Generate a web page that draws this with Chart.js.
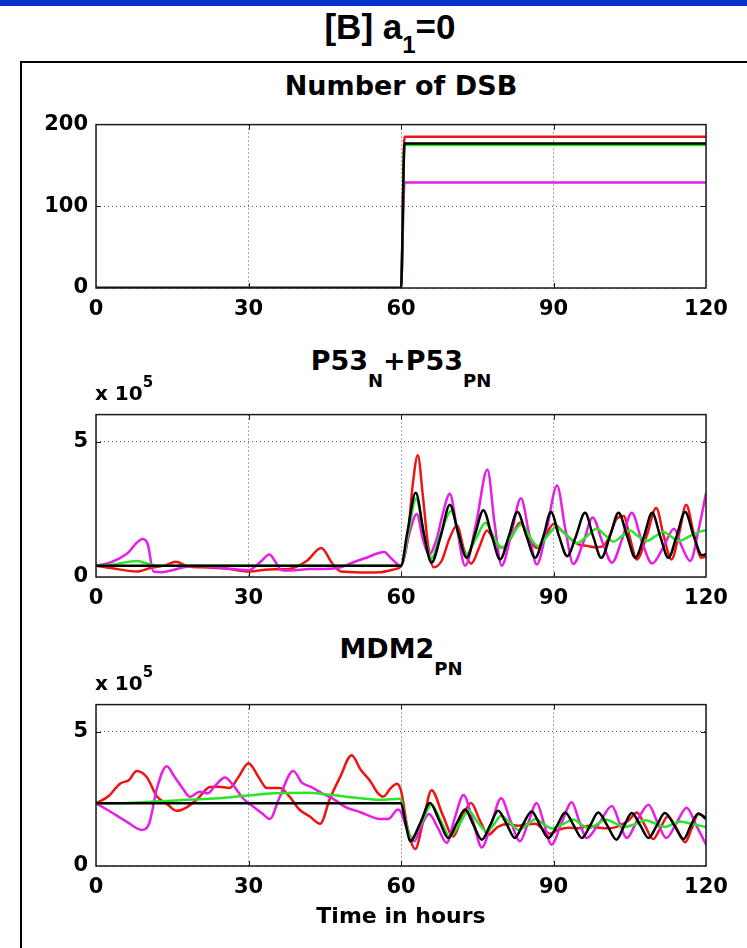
<!DOCTYPE html>
<html>
<head>
<meta charset="utf-8">
<script src="https://cdn.jsdelivr.net/npm/chart.js@4.4.1/dist/chart.umd.min.js"></script>
<style>
  html, body { margin: 0; padding: 0; background: #fff; }
  #page { position: relative; width: 747px; height: 948px; overflow: hidden; background: #fff;
          font-family: "DejaVu Sans", sans-serif; font-weight: bold; color: #000; }
  #topbar { position: absolute; left: 0; top: 0; width: 747px; height: 6px; background: #0033cc; }
  #frame { position: absolute; left: 20px; top: 61px; width: 800px; height: 1000px;
           border-left: 2px solid #000; border-top: 2px solid #000; }
  #figTitle { position: absolute; left: 0; width: 780px; top: 9px; text-align: center;
              font-family: "Liberation Sans", Arial, sans-serif; font-size: 35px; line-height: 35px; white-space: nowrap; }
  .title { position: absolute; left: 96px; width: 610px; text-align: center; font-size: 27px;
           line-height: 27px; white-space: nowrap; z-index: 2; }
  .sub { position: relative; top: 17px; font-size: 18px; }
  .mult { position: absolute; left: 95px; font-size: 20px; line-height: 20px; white-space: nowrap; z-index: 2; }
  .sup { position: relative; top: -13px; font-size: 15px; }
  canvas { position: absolute; left: 0; z-index: 1; }
</style>
</head>
<body>
<div id="page">
  <div id="topbar"></div>
  <div id="frame"></div>
  <div id="figTitle">[B] a<span class="sub" style="top:14px; font-size:24px;">1</span>=0</div>

  <div class="title" style="top:72px;">Number of DSB</div>
  <canvas id="dsbChart" width="747" height="228" style="top:104px;"></canvas>

  <div class="title" style="top:347px;">P53<span class="sub">N</span>+P53<span class="sub">PN</span></div>
  <div class="mult" style="top:383px;">x 10<span class="sup">5</span></div>
  <canvas id="p53Chart" width="747" height="227" style="top:394px;"></canvas>

  <div class="title" style="top:635px;">MDM2<span class="sub">PN</span></div>
  <div class="mult" style="top:673px;">x 10<span class="sup">5</span></div>
  <canvas id="mdmChart" width="747" height="252" style="top:684px;"></canvas>
</div>

<script>
// x axis (hours) shared by the three panels
const hourTicks = [0, 30, 60, 90, 120];
const dsbTicks = [0, 100, 200];
const e5Ticks = [0, 5];

// Number of DSB
const dsbHours = [0, 60, 60.7, 120];
const dsbRed = [0, 0, 185, 185];
const dsbMagenta = [0, 0, 129, 129];
const dsbGreen = [0, 0, 175, 175];
const dsbBlack = [0, 0, 177, 177];

// P53N + P53PN  (x 10^5)
const p53RedHours = [0, 4, 8, 11, 13.5, 15.7, 18, 22, 26, 30, 34, 38, 41.5, 44.3, 46.5, 48.2, 52, 56, 59, 60,
  61.3, 62.3, 63.3, 64.3, 65.3, 66.4, 68, 69.5, 71, 72.4, 73.8, 75.4, 76.9, 78.5, 80.1, 81.8, 83.4, 85, 86.7, 88.4,
  90, 91.7, 93.3, 95, 96.6, 98.3, 99.9, 101.2, 102.4, 103.8, 105.1, 106.4, 108.3, 110.2, 111.7, 113.2, 114.7, 116.1, 117.6, 119.1, 120];
const p53Red = [0.42, 0.3, 0.2, 0.35, 0.42, 0.56, 0.4, 0.35, 0.3, 0.2, 0.28, 0.3, 0.6, 1.07, 0.5, 0.2, 0.17, 0.18, 0.3, 0.4,
  1.4, 3.4, 4.5, 3.0, 1.2, 0.36, 0.6, 1.4, 1.9, 1.0, 0.49, 1.1, 1.72, 1.3, 1.07, 1.5, 2.0, 1.5, 1.07, 1.5,
  1.96, 1.7, 1.42, 1.2, 1.15, 1.1, 1.15, 1.6, 2.14, 2.25, 1.4, 0.65, 1.5, 2.55, 1.5, 0.65, 1.6, 2.67, 1.6, 0.71, 0.75];

const p53MagentaHours = [0, 3, 6, 9.2, 10.2, 11.3, 13, 15, 17, 20, 24, 28, 30, 32.3, 34.1, 35.5, 36.5, 38.4, 42, 45,
  48, 50, 53, 56.7, 58, 60, 61.5, 63.1, 64.3, 65.5, 67, 68.3, 69.6, 71, 72.6, 74.8, 77, 78.4, 79.8, 81.7,
  83.6, 85.2, 86.7, 88.7, 90.7, 92.3, 93.9, 95.9, 97.7, 99.6, 101.5, 103.5, 105.4, 107.4, 109.4, 111.6, 113.7, 115.3, 116.9, 118.6, 119.8, 120];
const p53Magenta = [0.42, 0.55, 0.85, 1.4, 1.2, 0.2, 0.18, 0.25, 0.35, 0.42, 0.35, 0.28, 0.25, 0.55, 0.83, 0.5, 0.25, 0.24, 0.3, 0.3,
  0.35, 0.5, 0.7, 0.92, 0.7, 0.42, 1.5, 2.33, 1.4, 0.83, 1.4, 2.4, 3.08, 1.8, 0.42, 2.0, 3.97, 2.0, 0.42, 1.6,
  2.91, 1.6, 0.46, 1.8, 3.38, 1.8, 0.48, 1.3, 2.2, 1.3, 0.53, 1.4, 2.37, 1.3, 0.5, 1.1, 1.78, 1.1, 0.59, 1.8, 2.9, 3.1];

const p53GreenHours = [0, 3, 6, 8, 10, 12, 60, 61.3, 63, 64.5, 66, 67.8, 69.9, 71.3, 72.8, 74.7, 76.6, 78.2, 79.8, 81.7,
  83.7, 85.3, 87, 88.7, 90.5, 92.5, 94.6, 96.5, 98.5, 100.1, 101.8, 103.4, 105, 106.7, 108.4, 110, 111.6, 113.1, 114.6, 117.2, 119.8, 120];
const p53Green = [0.42, 0.45, 0.55, 0.59, 0.5, 0.42, 0.42, 1.5, 2.9, 1.6, 0.7, 1.6, 2.44, 1.6, 0.83, 1.4, 2.0, 1.5, 1.07, 1.5,
  1.96, 1.5, 1.13, 1.5, 1.84, 1.55, 1.25, 1.5, 1.78, 1.55, 1.31, 1.5, 1.72, 1.5, 1.33, 1.5, 1.66, 1.5, 1.33, 1.55, 1.72, 1.72];

const p53BlackHours = [0, 60, 61.2, 62.9, 64.5, 66, 67.8, 69.6, 71.3, 72.9, 74.6, 76.2, 77.9, 79.5, 81.2, 82.9, 84.7, 86.4, 88, 89.5,
  91.1, 92.7, 94.4, 96.2, 97.8, 99.4, 101.1, 102.8, 104.5, 106.1, 107.8, 109.4, 111, 112.6, 114.2, 115.9, 117.6, 119.2, 120];
const p53Black = [0.42, 0.42, 1.6, 3.11, 1.6, 0.53, 1.5, 2.67, 1.6, 0.71, 1.6, 2.47, 1.5, 0.65, 1.5, 2.4, 1.5, 0.71, 1.5, 2.4,
  1.5, 0.77, 1.5, 2.37, 1.5, 0.71, 1.5, 2.37, 1.5, 0.71, 1.5, 2.37, 1.5, 0.71, 1.5, 2.4, 1.5, 0.8, 0.85];

// MDM2PN  (x 10^5)
const mdmRedHours = [0, 2.5, 4.7, 6.5, 8, 10, 12, 14, 15.9, 18, 20, 22.4, 24, 26.3, 28, 30, 32, 33.6, 36.2, 38,
  40, 42, 44.1, 46, 48, 50.3, 52, 53.9, 55.5, 56.5, 58, 59.2, 60, 61.3, 62.8, 64.4, 66, 68.2, 70.3, 72,
  73.8, 75.5, 77.2, 79, 81, 83, 84.8, 86.4, 88, 89.2, 91, 93, 95, 97, 99, 101, 103, 104.8, 106.4, 108,
  109.6, 111, 112.5, 114.2, 115.9, 117.2, 118.5, 120];
const mdmRed = [2.33, 2.6, 3.06, 3.2, 3.53, 3.3, 2.58, 2.3, 2.05, 2.2, 2.5, 2.94, 2.95, 2.9, 3.3, 3.82, 3.3, 2.9, 2.9, 2.6,
  2.1, 1.85, 1.57, 2.5, 3.3, 4.12, 3.6, 3.17, 2.7, 2.58, 2.9, 3.06, 2.8, 1.4, 0.63, 1.7, 2.82, 1.9, 1.1, 1.8,
  2.34, 1.7, 1.16, 1.45, 1.56, 1.5, 1.55, 1.57, 1.35, 1.2, 1.35, 1.42, 1.4, 1.5, 1.42, 1.4, 1.5, 1.7, 1.99, 1.5,
  1.0, 1.4, 1.85, 1.4, 0.88, 1.4, 1.93, 1.8];

const mdmMagentaHours = [0, 3, 6, 9, 10.5, 12, 13.9, 15.5, 17, 18.5, 20.4, 22, 23.5, 25.4, 27, 29, 31, 32.7, 34.2, 36,
  38.8, 40.5, 42.3, 44.5, 46.9, 49, 52, 55.9, 57.5, 59.4, 60, 61.3, 62.6, 64, 65.5, 67.3, 69, 70.6, 72.3, 74.1,
  75.9, 77.8, 79.7, 81.5, 83.4, 85, 86.7, 88.1, 89.6, 91.6, 93.6, 95, 96.5, 99, 101.5, 103, 104.4, 106.5, 108.7, 110.5,
  112.2, 114.2, 116.2, 118.1, 120];
const mdmMagenta = [2.33, 2.0, 1.65, 1.34, 1.6, 2.9, 3.71, 3.3, 2.9, 2.57, 2.76, 2.7, 3.0, 3.29, 3.0, 2.5, 2.2, 1.95, 1.75, 2.5,
  3.53, 3.1, 2.94, 2.7, 2.47, 2.2, 2.0, 1.75, 1.75, 2.1, 2.0, 1.3, 0.92, 1.5, 1.93, 1.4, 0.86, 1.8, 2.64, 1.7,
  0.69, 1.6, 2.52, 1.7, 0.92, 1.6, 2.34, 1.6, 0.8, 1.6, 2.37, 1.7, 1.04, 1.6, 2.23, 1.6, 1.04, 1.7, 2.28, 1.6,
  1.04, 1.6, 2.17, 1.5, 0.8];

const mdmGreenHours = [0, 5, 10, 14, 17.8, 22, 26, 30, 34.9, 41.4, 46, 50, 55.9, 59.8, 61, 62, 64, 66, 67.8, 69.6,
  71.5, 73.3, 75, 76.9, 78.3, 79.7, 81.5, 83.2, 84.9, 86.5, 88.1, 89.7, 91.8, 93.9, 95.4, 96.9, 98.5, 100.2, 102, 103.8,
  106, 108, 110, 111.9, 113.4, 115, 117.5, 120];
const mdmGreen = [2.33, 2.33, 2.38, 2.42, 2.46, 2.5, 2.55, 2.62, 2.7, 2.72, 2.65, 2.56, 2.46, 2.5, 1.6, 1.04, 1.6, 2.28, 1.7, 1.1,
  1.55, 2.05, 1.65, 1.28, 1.55, 1.87, 1.6, 1.34, 1.55, 1.75, 1.55, 1.4, 1.55, 1.73, 1.55, 1.4, 1.55, 1.73, 1.6, 1.45,
  1.55, 1.7, 1.58, 1.45, 1.55, 1.65, 1.55, 1.45];

const mdmBlackHours = [0, 60, 60.9, 61.8, 63.8, 65.7, 67.5, 69.3, 71, 72.6, 74.2, 75.9, 77.5, 79.1, 80.8, 82.4, 84, 85.7, 87.4, 89,
  90.7, 92.3, 94, 95.6, 97.2, 98.8, 100.6, 102.4, 103.9, 105.4, 107.1, 108.7, 110.3, 111.9, 113.8, 115.6, 117, 118.5, 120];
const mdmBlack = [2.33, 2.33, 1.6, 0.92, 1.6, 2.34, 1.7, 1.04, 1.6, 2.1, 1.55, 0.98, 1.5, 2.05, 1.55, 1.04, 1.55, 2.03, 1.5, 1.04,
  1.5, 1.99, 1.5, 1.04, 1.5, 1.99, 1.5, 0.98, 1.5, 1.97, 1.5, 1.04, 1.5, 1.97, 1.5, 1.0, 1.5, 1.95, 1.75];


const COLORS = {
    red: '#ee1414',
    magenta: '#e61ee6',
    green: '#28e628',
    black: '#000000',
};
const TICK_FONT = { family: 'DejaVu Sans', size: 21, weight: 'bold' };

function toPoints(hours, values) {
    return hours.map((h, i) => ({ x: h, y: values[i] }));
}

// order: lower numbers are painted last (on top)
function line(hours, values, color, order) {
    return {
        data: toPoints(hours, values),
        borderColor: color,
        borderWidth: 2.5,
        pointRadius: 0,
        cubicInterpolationMode: 'monotone',
        fill: false,
        order: order,
    };
}

// matlab style axes box with ticks pointing inwards
const boxPlugin = {
    id: 'matlabBox',
    afterDraw(chart) {
        const { ctx, chartArea: a, scales } = chart;
        const len = 5;
        ctx.save();
        ctx.strokeStyle = '#1a1a1a';
        ctx.lineWidth = 1.5;
        ctx.strokeRect(a.left, a.top, a.right - a.left, a.bottom - a.top);
        ctx.lineWidth = 1;
        ctx.beginPath();
        scales.x.ticks.forEach(t => {
            if (t.value <= scales.x.min || t.value >= scales.x.max) return;
            const px = Math.round(scales.x.getPixelForValue(t.value)) + 0.5;
            ctx.moveTo(px, a.bottom); ctx.lineTo(px, a.bottom - len);
            ctx.moveTo(px, a.top); ctx.lineTo(px, a.top + len);
        });
        scales.y.ticks.forEach(t => {
            if (t.value <= scales.y.min || t.value >= scales.y.max) return;
            const py = Math.round(scales.y.getPixelForValue(t.value)) + 0.5;
            ctx.moveTo(a.left, py); ctx.lineTo(a.left + len, py);
            ctx.moveTo(a.right, py); ctx.lineTo(a.right - len, py);
        });
        ctx.stroke();
        ctx.restore();
    }
};

function makePanel(canvasId, datasets, yMax, yTicks, xTitle) {
    const xHeight = xTitle ? 70 : 44;
    return new Chart(document.getElementById(canvasId), {
        type: 'line',
        data: { datasets: datasets },
        plugins: [boxPlugin],
        options: {
            responsive: false,
            animation: false,
            events: [],
            layout: { padding: { top: 14, right: 41, left: 0, bottom: 0 } },
            scales: {
                x: {
                    type: 'linear',
                    min: 0,
                    max: 120,
                    afterBuildTicks: scale => { scale.ticks = hourTicks.map(v => ({ value: v })); },
                    afterFit: scale => { scale.height = xHeight; },
                    grid: { color: '#555', lineWidth: 1, drawTicks: false },
                    border: { display: false, dash: [1, 3] },
                    ticks: {
                        color: '#000',
                        font: TICK_FONT,
                        padding: 9,
                        maxRotation: 0,
                        minRotation: 0,
                    },
                    title: {
                        display: !!xTitle,
                        text: xTitle || '',
                        color: '#000',
                        font: { family: 'DejaVu Sans', size: 22, weight: 'bold' },
                        padding: { top: 0, bottom: 6 },
                    },
                },
                y: {
                    min: 0,
                    max: yMax,
                    afterBuildTicks: scale => { scale.ticks = yTicks.map(v => ({ value: v })); },
                    afterFit: scale => { scale.width = 96; },
                    grid: { color: '#555', lineWidth: 1, drawTicks: false },
                    border: { display: false, dash: [1, 3] },
                    ticks: {
                        color: '#000',
                        font: TICK_FONT,
                        padding: 8,
                    },
                },
            },
            plugins: {
                legend: { display: false },
                tooltip: { enabled: false },
            },
        },
    });
}

makePanel('dsbChart', [
    line(dsbHours, dsbRed, COLORS.red, 4),
    line(dsbHours, dsbMagenta, COLORS.magenta, 3),
    line(dsbHours, dsbGreen, COLORS.green, 2),
    line(dsbHours, dsbBlack, COLORS.black, 1),
], 200, dsbTicks);

makePanel('p53Chart', [
    line(p53RedHours, p53Red, COLORS.red, 4),
    line(p53MagentaHours, p53Magenta, COLORS.magenta, 3),
    line(p53GreenHours, p53Green, COLORS.green, 2),
    line(p53BlackHours, p53Black, COLORS.black, 1),
], 6, e5Ticks);

makePanel('mdmChart', [
    line(mdmRedHours, mdmRed, COLORS.red, 4),
    line(mdmMagentaHours, mdmMagenta, COLORS.magenta, 3),
    line(mdmGreenHours, mdmGreen, COLORS.green, 2),
    line(mdmBlackHours, mdmBlack, COLORS.black, 1),
], 6, e5Ticks, 'Time in hours');
</script>
</body>
</html>
